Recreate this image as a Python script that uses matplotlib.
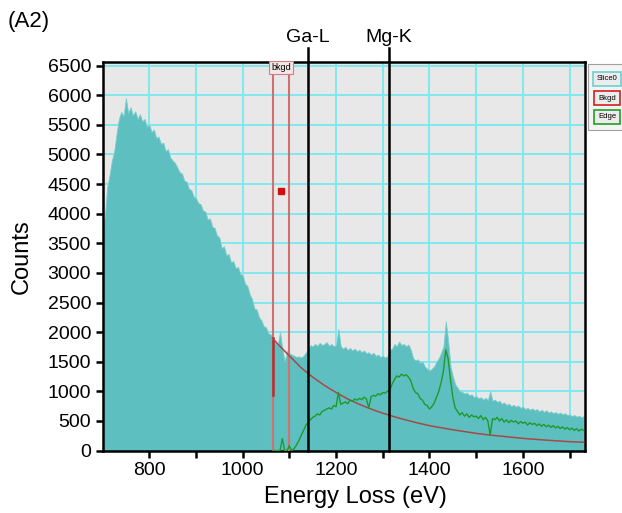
import numpy as np
import matplotlib
matplotlib.use('Agg')
import matplotlib.pyplot as plt
from matplotlib.patches import Rectangle

plt.rcParams['font.family'] = ['Liberation Sans', 'DejaVu Sans']

# spectrum (Slice0), 5 eV channels from 700 eV
e_start, e_step = 700, 5
counts = [
    3750, 3950, 4450, 4650, 4900, 5050, 5350, 5600, 5720, 5650,
    5950, 5700, 5800, 5660, 5730, 5600, 5680, 5560, 5600, 5470,
    5500, 5380, 5420, 5280, 5300, 5180, 5200, 5060, 5090, 4950,
    4900, 4860, 4780, 4700, 4680, 4560, 4540, 4420, 4400, 4290,
    4260, 4180, 4160, 4050, 4040, 3900, 3920, 3780, 3760, 3630,
    3600, 3420, 3450, 3300, 3320, 3180, 3200, 3080, 3100, 2980,
    2960, 2820, 2780, 2640, 2560, 2400, 2380, 2250, 2200, 2100,
    2080, 1980, 1960, 1880, 1820, 1780, 2000, 1720, 1500, 1680,
    1640, 1620, 1600, 1580, 1590, 1570, 1600, 1650, 1700, 1780,
    1760, 1800, 1770, 1820, 1780, 1800, 1830, 1770, 1800, 1760,
    1780, 2050, 1760, 1720, 1750, 1700, 1730, 1690, 1720, 1680,
    1700, 1660, 1690, 1640, 1660, 1620, 1650, 1600, 1620, 1580,
    1600, 1570, 1590, 1700, 1720, 1800, 1760, 1840, 1780, 1800,
    1760, 1790, 1700, 1560, 1520, 1540, 1480, 1500, 1420, 1380,
    1350, 1380, 1420, 1500, 1560, 1650, 1760, 2180, 1850, 1420,
    1250, 1120, 1060, 1000, 990, 960, 980, 930, 950, 900,
    920, 880, 900, 860, 890, 850, 1000, 840, 860, 820,
    840, 790, 810, 770, 790, 750, 770, 740, 760, 720,
    740, 700, 720, 690, 710, 680, 700, 660, 690, 650,
    680, 640, 660, 630, 650, 620, 640, 610, 630, 600,
    610, 580, 600, 570, 590, 560, 580,
]
energy = e_start + e_step * np.arange(len(counts))

# extracted edge, 5 eV channels from 1065 eV
edge_start = 1065
edge = [
    0, 0, 0, 0, 200, 0, 0, 80, 0, 30,
    90, 160, 250, 330, 420, 480, 520, 560, 580, 620,
    600, 660, 680, 700, 720, 700, 760, 740, 980, 780,
    800, 820, 790, 850, 830, 870, 850, 880, 860, 900,
    870, 720, 910, 930, 920, 960, 940, 980, 970, 1000,
    1020, 1120, 1200, 1260, 1240, 1290, 1260, 1280, 1240, 1180,
    1050, 980, 960, 880, 850, 780, 760, 700, 740, 800,
    900, 1000, 1150, 1350, 1700, 1550, 1200, 900, 720, 660,
    600, 640, 580, 620, 560, 600, 570, 580, 540, 590,
    520, 560, 500, 260, 540, 520, 560, 500, 540, 480,
    520, 470, 510, 480, 500, 450, 490, 460, 480, 430,
    470, 440, 460, 420, 450, 410, 440, 400, 430, 390,
    420, 380, 410, 370, 400, 360, 390, 350, 380, 340,
    370, 330, 360, 340,
]
edge_energy = edge_start + e_step * np.arange(len(edge))

# fitted background
bkgd_energy = [1064, 1075, 1100, 1125, 1150, 1175, 1200, 1225, 1250, 1275,
               1300, 1325, 1350, 1375, 1400, 1425, 1450, 1475, 1500, 1525,
               1550, 1575, 1600, 1625, 1650, 1675, 1700, 1730]
bkgd_counts = [1900, 1800, 1600, 1400, 1240, 1100, 980, 870, 780, 700,
               630, 570, 515, 465, 420, 385, 350, 320, 290, 265,
               245, 225, 205, 190, 175, 162, 150, 140]

window = [1064, 1100]
edges = {'Ga-L': 1140, 'Mg-K': 1313}

teal = '#5dbfbf'

fig = plt.figure(figsize=(6.22, 5.13), dpi=100)
ax = fig.add_axes([0.1656, 0.1218, 0.7749, 0.7573])
ax.set_facecolor('#e8e8e8')
ax.set_axisbelow(True)
ax.grid(True, color='#80e8ee', lw=1.4)

ax.fill_between(energy, counts, color=teal, lw=0.6, edgecolor='#7ccccc', zorder=2)

for w in window:
    ax.axvline(w, color='#d07070', lw=1.5, zorder=3)
ax.plot([window[0], window[0]], [940, 1900], color='#b03030', lw=1.8, zorder=4)
ax.plot(bkgd_energy, bkgd_counts, color='#a94848', lw=1.1, zorder=4)
ax.plot(edge_energy, edge, color='#1f9a2a', lw=1.0, zorder=5)
ax.plot([1082], [4385], 's', color='#d01010', ms=4, zorder=5)

ax.set_xlim(701, 1733)
ax.set_ylim(0, 6562)
for name, e in edges.items():
    ax.plot([e, e], [0, 6800], color='black', lw=1.8, clip_on=False, zorder=6)
    ax.text(e, 6980, name, ha='center', va='center', fontsize=14, clip_on=False)

ax.text(sum(window) / 2, 6545, 'bkgd', ha='center', va='top', fontsize=6.5,
        bbox=dict(boxstyle='square,pad=0.2', fc='#f2e6e6', ec='#d08080', lw=0.8), zorder=7)

xt = np.arange(800, 1800, 100)
ax.set_xticks(xt)
ax.set_xticklabels([str(v) if v % 200 == 0 else '' for v in xt])
ax.set_yticks(np.arange(0, 6501, 500))
ax.tick_params(labelsize=14, width=1.8, length=5, direction='out')
for s in ax.spines.values():
    s.set_linewidth(1.8)
ax.set_ylabel('Counts', fontsize=17, labelpad=11)

fig.text(355 / 622, 1 - 497 / 513, 'Energy Loss (eV)', ha='center', va='center', fontsize=17)
fig.text(8 / 622, 1 - 22 / 513, '(A2)', ha='left', va='center', fontsize=16)

# legend panel on the right
fig.patches.append(Rectangle((588 / 622, 1 - 130 / 513), 0.06, 66 / 513,
                             transform=fig.transFigure, fc='#f4f4f4', ec='#a0a0a0', lw=0.8))
for lab, c, yp in [('Slice0', '#6cd0d0', 79), ('Bkgd', '#d02020', 98), ('Edge', '#20a020', 117)]:
    fig.text(607 / 622, 1 - yp / 513, lab, ha='center', va='center', fontsize=5.5,
             bbox=dict(boxstyle='square,pad=0.5', fc='#ececec', ec=c, lw=1.2))

fig.savefig('out.png', dpi=100)
